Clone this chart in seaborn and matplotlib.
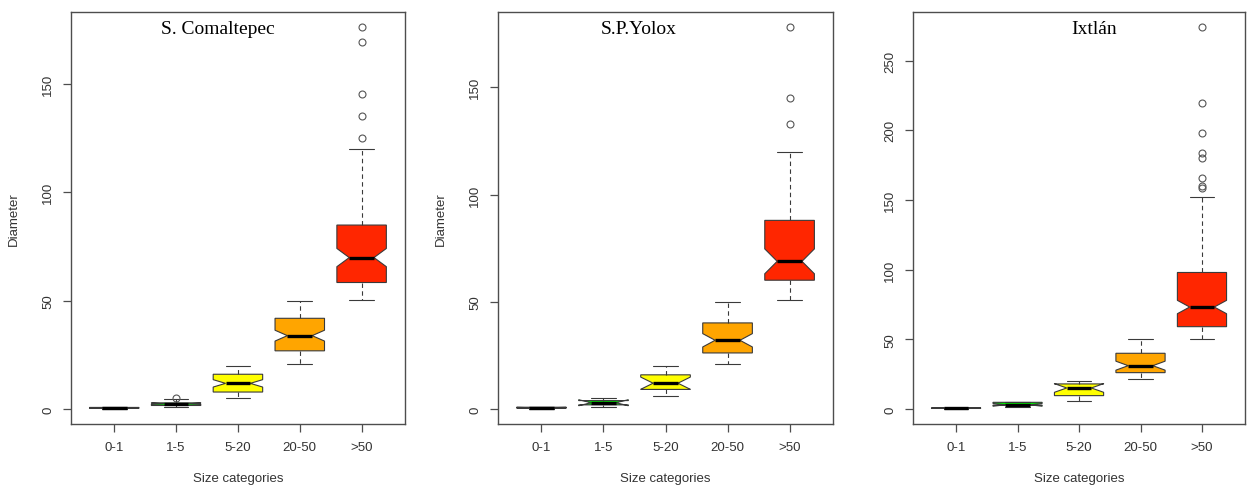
import numpy as np
import pandas as pd
import matplotlib
matplotlib.use("Agg")
import matplotlib.pyplot as plt
import seaborn as sns

categories = ["0-1", "1-5", "5-20", "20-50", ">50"]
box_colors = ["#1f5f1f", "#00e600", "#ffff00", "#ffa500", "#ff2600"]
sites = ["S. Comaltepec", "S.P.Yolox", "Ixtlán"]

# lower whisker, Q1, median, Q3, upper whisker for each size category
comaltepec_summary = [
    [0.1, 0.3, 0.5, 0.7, 1.0],
    [1.0, 1.6, 2.4, 2.8, 4.5],
    [5.2, 7.8, 11.8, 16.0, 19.8],
    [20.8, 26.8, 33.8, 41.8, 49.8],
    [50.3, 58.3, 69.8, 84.8, 120.0],
]
yolox_summary = [
    [0.2, 0.5, 0.7, 0.9, 1.0],
    [1.0, 2.0, 3.0, 4.0, 5.0],
    [6.2, 9.2, 12.1, 16.0, 20.0],
    [21.1, 26.2, 32.1, 40.2, 50.0],
    [51.1, 60.1, 68.9, 88.0, 120.0],
]
ixtlan_summary = [
    [0.2, 0.4, 0.6, 0.8, 1.0],
    [1.8, 2.8, 3.0, 4.8, 5.0],
    [5.5, 9.6, 15.1, 18.0, 19.8],
    [21.3, 26.1, 31.1, 40.0, 50.0],
    [50.5, 59.1, 73.2, 98.0, 152.0],
]

# number of trees sitting at each of those five values (sample sizes estimated from notch widths)
comaltepec_counts = [
    [1, 10, 8, 10, 1],
    [1, 14, 10, 13, 1],
    [1, 21, 14, 20, 1],
    [1, 33, 22, 32, 1],
    [1, 36, 24, 31, 1],
]
yolox_counts = [
    [1, 7, 5, 6, 1],
    [1, 1, 1, 1, 1],
    [1, 4, 4, 4, 1],
    [1, 18, 12, 18, 1],
    [1, 21, 14, 17, 1],
]
ixtlan_counts = [
    [1, 10, 8, 10, 1],
    [1, 3, 2, 2, 2],
    [1, 6, 4, 6, 1],
    [1, 16, 12, 16, 1],
    [1, 60, 40, 52, 1],
]

# outlying trees
comaltepec_outliers = [[], [4.9], [], [], [125, 135, 145, 169, 176]]
yolox_outliers = [[], [], [], [], [133, 145, 178]]
ixtlan_outliers = [[], [], [], [], [158.3, 159.8, 166, 180.5, 183.4, 198, 220, 274]]

y_ticks = [[0, 50, 100, 150], [0, 50, 100, 150], [0, 50, 100, 150, 200, 250]]
y_labels = ["Diameter", "Diameter", ""]


def build_frame(summary, counts, outliers):
    parts = []
    for cat, vals, reps, extra in zip(categories, summary, counts, outliers):
        diam = np.concatenate([np.repeat(vals, reps), np.array(extra, dtype=float)])
        parts.append(pd.DataFrame({"category": cat, "diameter": diam}))
    return pd.concat(parts, ignore_index=True)


def main():
    sns.set_style("ticks")
    plt.rcParams["font.family"] = ["Liberation Sans", "DejaVu Sans"]

    frames = [
        build_frame(comaltepec_summary, comaltepec_counts, comaltepec_outliers),
        build_frame(yolox_summary, yolox_counts, yolox_outliers),
        build_frame(ixtlan_summary, ixtlan_counts, ixtlan_outliers),
    ]

    fig = plt.figure(figsize=(12.47, 4.89), dpi=100)
    positions = [
        [0.0569, 0.1309, 0.2678, 0.8425],
        [0.3994, 0.1309, 0.2686, 0.8425],
        [0.7322, 0.1309, 0.2662, 0.8425],
    ]
    title_x = [0.44, 0.42, 0.545]
    frame_col = "#4d4d4d"
    text_col = "#333333"

    for i, df in enumerate(frames):
        ax = fig.add_axes(positions[i])
        sns.boxplot(
            data=df, x="category", y="diameter", hue="category",
            order=categories, hue_order=categories, palette=box_colors,
            saturation=1, legend=False, notch=True, width=0.8,
            linecolor="#3a3a3a", linewidth=0.8, fliersize=5, ax=ax,
            medianprops=dict(color="black", linewidth=2.4),
            whiskerprops=dict(linestyle=(0, (4, 3))),
            flierprops=dict(marker="o", markeredgecolor="#555555",
                            markerfacecolor="none", markeredgewidth=0.8),
        )

        lo, hi = df["diameter"].min(), df["diameter"].max()
        pad = 0.04 * (hi - lo)
        ax.set_ylim(lo - pad, hi + pad)
        ax.set_xlim(-0.7, 4.7)
        ax.set_yticks(y_ticks[i])

        for side in ["top", "right", "left", "bottom"]:
            ax.spines[side].set_visible(True)
            ax.spines[side].set_color(frame_col)
            ax.spines[side].set_linewidth(1.0)

        ax.tick_params(axis="both", length=6, width=0.9, color=frame_col,
                       labelsize=9.5, labelcolor=text_col, pad=6)
        ax.tick_params(axis="y", labelrotation=90)
        for lab in ax.get_yticklabels():
            lab.set_verticalalignment("center")

        ax.set_xlabel("Size categories", fontsize=9.5, color=text_col, labelpad=14)
        ax.set_ylabel(y_labels[i], fontsize=9.5, color=text_col, labelpad=16)

        ax.text(title_x[i], 0.959, sites[i], transform=ax.transAxes,
                ha="center", va="center", fontsize=14,
                family=["Liberation Serif", "DejaVu Serif"], color="black")

    fig.savefig("out.png", dpi=100)


if __name__ == "__main__":
    main()
